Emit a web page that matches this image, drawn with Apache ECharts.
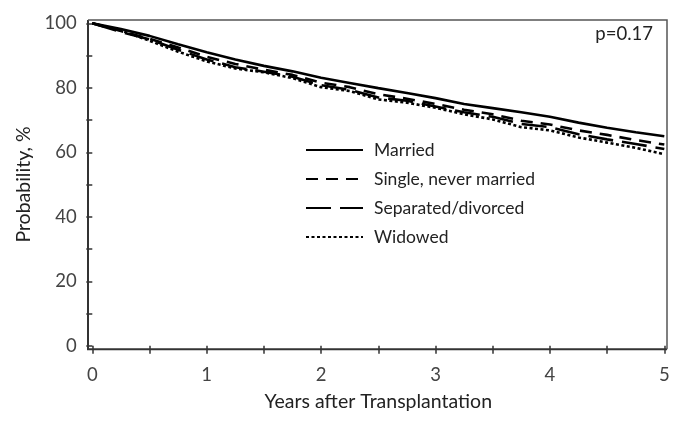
<!DOCTYPE html>
<html>
<head>
<meta charset="utf-8">
<script src="https://cdn.jsdelivr.net/npm/echarts@6/dist/echarts.min.js"></script>
<style>html,body{margin:0;padding:0;background:#fff;}#c{width:687px;height:425px;}</style>
</head>
<body>
<div id="c"></div>
<script>
var years = [0, 0.25, 0.5, 0.75, 1, 1.25, 1.5, 1.75, 2, 2.25, 2.5, 2.75, 3, 3.25, 3.5, 3.75, 4, 4.25, 4.5, 4.75, 5];
var married   = [100, 98.2, 96.1, 93.5, 91.0, 88.8, 86.8, 85.1, 83.1, 81.5, 79.9, 78.4, 76.8, 75.0, 73.7, 72.4, 71.0, 69.2, 67.6, 66.2, 65.0];
var single    = [100, 97.6, 95.2, 92.5, 89.6, 87.4, 85.6, 84.0, 81.6, 80.2, 78.0, 76.6, 75.0, 73.2, 71.8, 69.8, 68.6, 66.8, 65.4, 63.8, 62.4];
var separated = [100, 97.3, 95.0, 91.8, 88.8, 86.4, 85.0, 83.4, 80.8, 79.4, 77.0, 76.0, 74.2, 72.4, 71.0, 68.8, 67.8, 65.6, 64.0, 62.6, 61.0];
var widowed   = [100, 97.8, 94.6, 91.2, 88.2, 86.0, 84.8, 83.0, 80.2, 79.0, 76.4, 75.4, 73.8, 71.8, 70.2, 67.8, 66.8, 64.6, 63.0, 61.4, 59.4];
var seriesNames = ['Married', 'Single, never married', 'Separated/divorced', 'Widowed'];
var pText = 'p=0.17';

function pairs(v) { return years.map(function (t, i) { return [t, v[i]]; }); }

var chart = echarts.init(document.getElementById('c'));
var font = 'Lato';
var styles = [
  { type: 'solid' },
  { type: [12, 8] },
  { type: [25, 9] },
  { type: [3, 2.5] }
];
var vals = [married, single, separated, widowed];
chart.setOption({
  backgroundColor: '#ffffff',
  animation: false,
  grid: { left: 92.3, right: 22.7, top: 23.3, bottom: 79.2 },
  xAxis: {
    type: 'value', min: 0, max: 5, interval: 0.5, offset: 3.5,
    name: 'Years after Transplantation', nameLocation: 'middle', nameGap: 42,
    nameTextStyle: { fontFamily: font, fontSize: 19.5, color: '#222' },
    axisLine: { show: false },
    axisTick: { show: true, length: 8, lineStyle: { color: '#333', width: 1.5 } },
    axisLabel: { fontFamily: font, fontSize: 18.5, color: '#444', margin: 16,
      formatter: function (v) { return Number.isInteger(v) ? String(v) : ''; } },
    splitLine: { show: false }
  },
  yAxis: {
    type: 'value', min: 0, max: 100, interval: 10, offset: 4.6,
    name: 'Probability, %', nameLocation: 'middle', nameGap: 53,
    nameTextStyle: { fontFamily: font, fontSize: 19.5, color: '#222' },
    axisLine: { show: false },
    axisTick: { show: true, length: 6, lineStyle: { color: '#333', width: 1.5 } },
    axisLabel: { fontFamily: font, fontSize: 18.5, color: '#444', margin: 11,
      formatter: function (v) { return v % 20 === 0 ? String(v) : ''; } },
    splitLine: { show: false }
  },
  legend: {
    orient: 'vertical', left: 305, top: 141, padding: 0,
    itemWidth: 57, itemHeight: 14, itemGap: 11,
    itemStyle: { opacity: 0 },
    textStyle: { fontFamily: font, fontSize: 17.5, color: '#222', padding: [0, 0, 0, 6] },
    data: seriesNames
  },
  series: seriesNames.map(function (n, i) {
    return {
      name: n, type: 'line', data: pairs(vals[i]), showSymbol: false, symbol: 'none',
      lineStyle: { color: '#000', width: 2.6, type: styles[i].type },
      itemStyle: { color: '#000' },
      z: 10 - i
    };
  }),
  graphic: [
    { type: 'polyline', silent: true, z: 100,
      shape: { points: [[88, 20], [88, 349.3], [667, 349.3]] },
      style: { stroke: '#333', lineWidth: 2, fill: null } },
    { type: 'polyline', silent: true, z: 100,
      shape: { points: [[88, 20], [667, 20], [667, 349.3]] },
      style: { stroke: '#555', lineWidth: 1.5, fill: null } },
    { type: 'text', silent: true, z: 100, right: 34, top: 25,
      style: { text: pText, fontFamily: font, fontSize: 18.5, fill: '#222' } }
  ]
});
</script>
</body>
</html>
